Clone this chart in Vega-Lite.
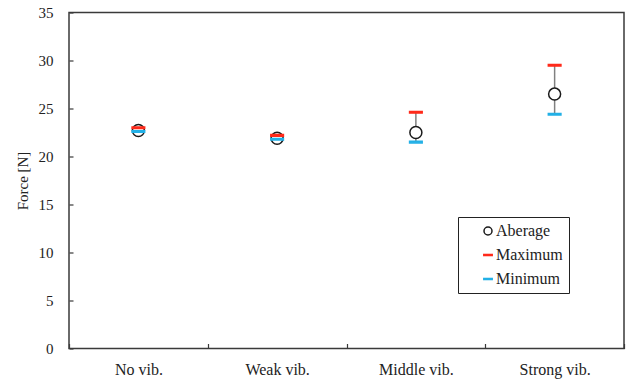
{
  "$schema": "https://vega.github.io/schema/vega-lite/v6.json",
  "width": 555,
  "height": 336,
  "autosize": {"type": "none"},
  "padding": {"left": 69, "top": 12.5, "right": 8, "bottom": 33.5},
  "background": "white",
  "config": {
    "view": {"stroke": "#3a3a3a", "strokeWidth": 1.5},
    "font": "Liberation Serif",
    "axis": {
      "grid": false,
      "domain": false,
      "labelFont": "Liberation Serif",
      "labelColor": "#222",
      "tickColor": "#3a3a3a",
      "tickWidth": 1.2,
      "titleFont": "Liberation Serif",
      "titleFontWeight": "normal",
      "titleFontSize": 15,
      "titleColor": "#222"
    },
    "legend": {
      "labelFont": "Liberation Serif",
      "labelFontSize": 16,
      "labelColor": "#222"
    }
  },
  "data": {
    "values": [
      {"condition": "No vib.", "Aberage": 22.7, "Maximum": 23.0, "Minimum": 22.6},
      {"condition": "Weak vib.", "Aberage": 21.9, "Maximum": 22.2, "Minimum": 21.8},
      {"condition": "Middle vib.", "Aberage": 22.5, "Maximum": 24.6, "Minimum": 21.5},
      {"condition": "Strong vib.", "Aberage": 26.5, "Maximum": 29.5, "Minimum": 24.4}
    ]
  },
  "encoding": {
    "x": {
      "field": "condition",
      "type": "nominal",
      "sort": null,
      "scale": {"paddingInner": 0, "paddingOuter": 0},
      "axis": {
        "title": null,
        "labelAngle": 0,
        "labelFontSize": 16,
        "tickBand": "extent",
        "tickSize": -5,
        "labelPadding": 18
      }
    }
  },
  "layer": [
    {
      "mark": {"type": "rule", "color": "#808080", "strokeWidth": 1.5},
      "encoding": {
        "y": {
          "field": "Minimum",
          "type": "quantitative",
          "scale": {"domain": [0, 35]},
          "axis": {
            "title": "Force [N]",
            "values": [0, 5, 10, 15, 20, 25, 30, 35],
            "labelFontSize": 15,
            "tickSize": -4,
            "labelPadding": 20,
            "titlePadding": 8
          }
        },
        "y2": {"field": "Maximum"}
      }
    },
    {
      "transform": [
        {"fold": ["Aberage", "Maximum", "Minimum"], "as": ["series", "force"]}
      ],
      "mark": {"type": "point", "filled": false, "size": 144, "strokeWidth": 1.5, "opacity": 1},
      "encoding": {
        "y": {"field": "force", "type": "quantitative"},
        "shape": {
          "field": "series",
          "type": "nominal",
          "scale": {
            "domain": ["Aberage", "Maximum", "Minimum"],
            "range": ["circle", "M-1.05,-0.13H1.05V0.13H-1.05Z", "M-1.05,-0.13H1.05V0.13H-1.05Z"]
          },
          "legend": {
            "title": null,
            "orient": "none",
            "legendX": 389,
            "legendY": 204.5,
            "padding": 6,
            "rowPadding": 8,
            "symbolOffset": 16,
            "labelOffset": 0,
            "symbolSize": 64,
            "symbolStrokeWidth": 1.5,
            "strokeColor": "#222",
            "fillColor": "white",
            "labelLimit": 200
          }
        },
        "fill": {
          "field": "series",
          "type": "nominal",
          "scale": {
            "domain": ["Aberage", "Maximum", "Minimum"],
            "range": ["#ffffff", "#ff2a1a", "#22b0e6"]
          }
        },
        "stroke": {
          "field": "series",
          "type": "nominal",
          "scale": {
            "domain": ["Aberage", "Maximum", "Minimum"],
            "range": ["#1a1a1a", "#ff2a1a", "#22b0e6"]
          }
        }
      }
    }
  ]
}
